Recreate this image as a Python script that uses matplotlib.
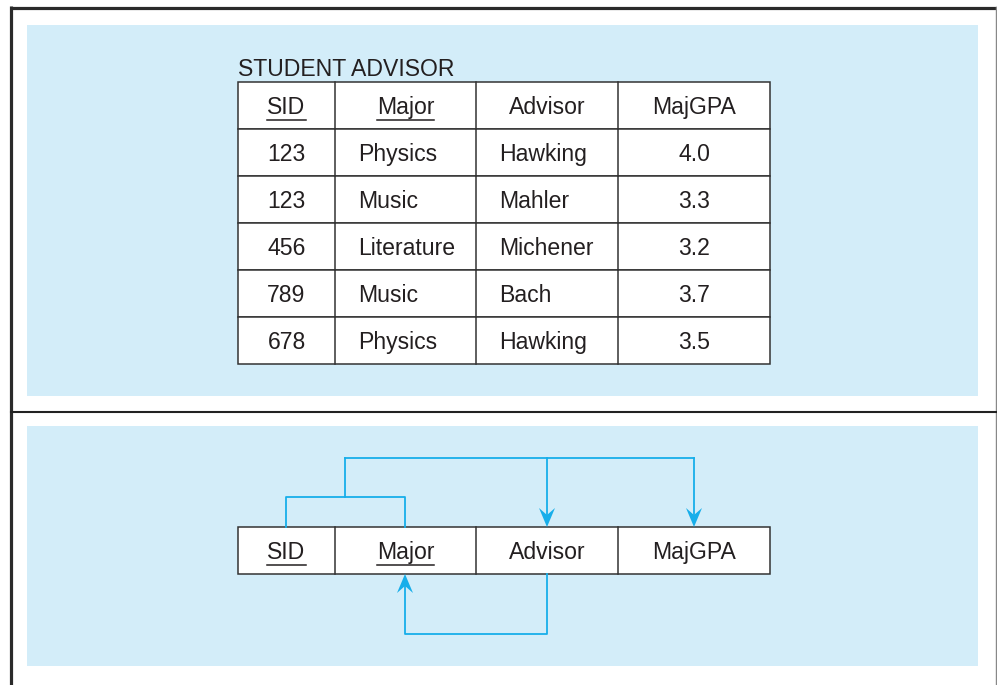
import matplotlib.pyplot as plt
from matplotlib.patches import Rectangle, Polygon

plt.rcParams['font.family'] = ['Liberation Sans', 'DejaVu Sans']

title = "STUDENT ADVISOR"
columns = ["SID", "Major", "Advisor", "MajGPA"]
key_cols = ["SID", "Major"]
sid = ["123", "123", "456", "789", "678"]
major = ["Physics", "Music", "Literature", "Music", "Physics"]
advisor = ["Hawking", "Mahler", "Michener", "Bach", "Hawking"]
majgpa = ["4.0", "3.3", "3.2", "3.7", "3.5"]

BLUE = "#d3edf9"
CYAN = "#17aeea"
DARK = "#333333"
FS = 16.6

# pixel layout
col_x = [238, 335, 476, 618, 770]
row_h = 47
table_top = 82
diag_top = 527

fig = plt.figure(figsize=(9.97, 6.85), dpi=100)
ax = fig.add_axes([0, 0, 1, 1])
ax.set_xlim(0, 997)
ax.set_ylim(685, 0)
ax.axis("off")

# frame and panels
ax.add_patch(Rectangle((27, 25), 951, 371, facecolor=BLUE, edgecolor="none"))
ax.add_patch(Rectangle((27, 426), 951, 240, facecolor=BLUE, edgecolor="none"))
ax.plot([11, 11], [6, 685], color="#2a2a2a", lw=2.3, solid_capstyle="butt")
ax.plot([10, 997], [7.5, 7.5], color="#2a2a2a", lw=2.3, solid_capstyle="butt")
ax.plot([996, 996], [7, 685], color="#888888", lw=1.0)
ax.plot([11, 997], [411.5, 411.5], color="#222222", lw=1.5)


def cell_text(ax, x, y, s, ha, underline=False):
    t = ax.text(x, y, s, fontsize=FS, ha=ha, va="baseline", color="#231f20")
    if underline:
        fig.canvas.draw()
        bb = t.get_window_extent().transformed(ax.transData.inverted())
        ax.plot([bb.x0, bb.x1], [y + 6, y + 6], color="#231f20", lw=1.1)


def draw_row(top, values, aligns, underline_keys=False):
    ax.add_patch(Rectangle((col_x[0], top), col_x[-1] - col_x[0], row_h,
                           facecolor="white", edgecolor=DARK, lw=1.1))
    for i, v in enumerate(values):
        if i > 0:
            ax.plot([col_x[i], col_x[i]], [top, top + row_h], color=DARK, lw=1.1)
        if aligns[i] == "center":
            x = (col_x[i] + col_x[i + 1]) / 2
        else:
            x = col_x[i] + 23
        cell_text(ax, x, top + 32, v, aligns[i],
                  underline=underline_keys and v in key_cols)


# top table
ax.text(col_x[0], 76, title, fontsize=FS, ha="left", va="baseline", color="#231f20")
draw_row(table_top, columns, ["center"] * 4, underline_keys=True)
for r in range(len(sid)):
    draw_row(table_top + row_h * (r + 1),
             [sid[r], major[r], advisor[r], majgpa[r]],
             ["center", "left", "left", "center"])

# dependency diagram
draw_row(diag_top, columns, ["center"] * 4, underline_keys=True)

sid_x, major_x, adv_x, gpa_x = 286, 405, 547, 694
lw = 1.3


def arrow_head(x, tip, direction):
    # direction = +1 pointing down, -1 pointing up
    back = tip - direction * 19
    notch = tip - direction * 12
    ax.add_patch(Polygon([(x, tip), (x - 8, back), (x, notch), (x + 8, back)],
                         closed=True, facecolor=CYAN, edgecolor="none"))


# key bracket
ax.plot([sid_x, sid_x, major_x, major_x],
        [diag_top, 497, 497, diag_top], color=CYAN, lw=lw)
ax.plot([345, 345], [497, 458], color=CYAN, lw=lw)
ax.plot([345, gpa_x], [458, 458], color=CYAN, lw=lw)
ax.plot([adv_x, adv_x], [458, diag_top - 8], color=CYAN, lw=lw)
ax.plot([gpa_x, gpa_x], [458, diag_top - 8], color=CYAN, lw=lw)
arrow_head(adv_x, diag_top, 1)
arrow_head(gpa_x, diag_top, 1)

# advisor -> major
bot = diag_top + row_h
ax.plot([adv_x, adv_x, major_x, major_x],
        [bot, 634, 634, bot + 8], color=CYAN, lw=lw)
arrow_head(major_x, bot, -1)

plt.savefig("out.png", dpi=100)
